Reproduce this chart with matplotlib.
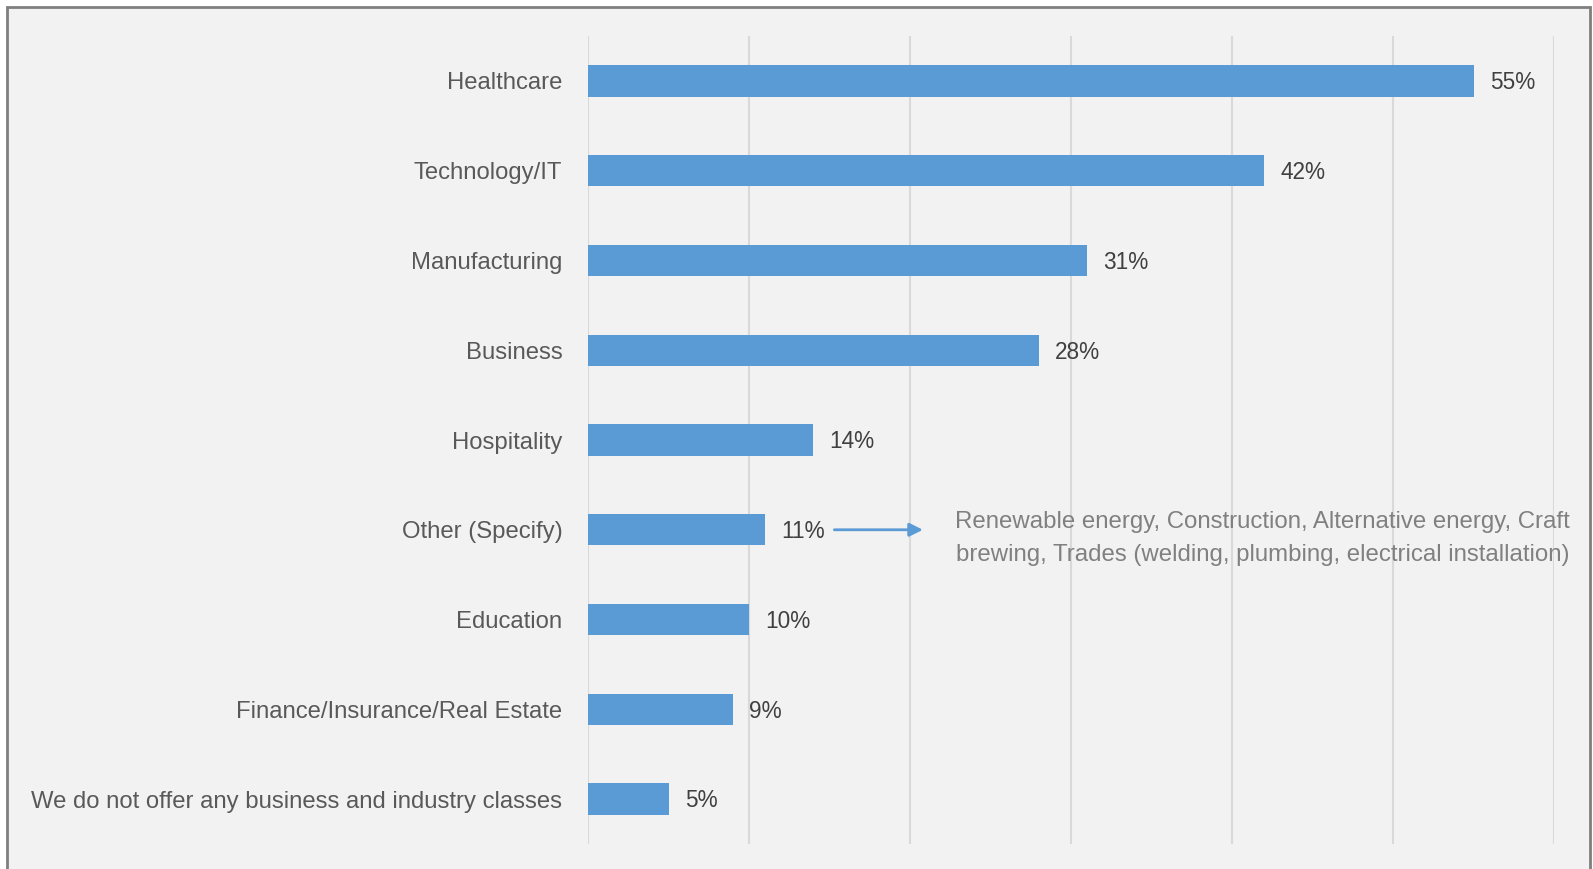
import matplotlib.pyplot as plt
from matplotlib.patches import Rectangle

categories = ['Healthcare', 'Technology/IT', 'Manufacturing', 'Business', 'Hospitality',
              'Other (Specify)', 'Education', 'Finance/Insurance/Real Estate',
              'We do not offer any business and industry classes']
values = [55, 42, 31, 28, 14, 11, 10, 9, 5]
other_note = ('Renewable energy, Construction, Alternative energy, Craft\n'
              'brewing, Trades (welding, plumbing, electrical installation)')

plt.rcParams['font.family'] = ['Liberation Sans Narrow', 'Liberation Sans', 'DejaVu Sans']

W, H = 1593, 869
fig = plt.figure(figsize=(W / 100, H / 100), dpi=100)
fig.patch.set_facecolor('white')

# grey panel with a border, kept behind the axes
fig.patches.append(Rectangle((7 / W, -0.05), (1590 - 7) / W, 1.05 - 7 / H,
                             transform=fig.transFigure, facecolor='#f2f2f2',
                             edgecolor='#7f7f7f', linewidth=2, zorder=-10))

ax = fig.add_axes([588 / W, 1 - 844 / H, 966 / W, (844 - 36) / H])
ax.set_facecolor('none')

y = list(range(len(categories)))
ax.barh(y, values, height=0.35, color='#5b9bd5', zorder=3)
for yi, v in zip(y, values):
    ax.text(v + 1.0, yi + 0.02, f'{v}%', va='center', ha='left', fontsize=16.3, color='#404040')

ax.set_xlim(0, 60)
ax.set_ylim(len(categories) - 0.5, -0.5)
ax.set_xticks(range(0, 61, 10))
ax.xaxis.grid(True, color='#d9d9d9', linewidth=1.5, zorder=0)
ax.tick_params(axis='x', length=0, labelbottom=False)
ax.tick_params(axis='y', length=0, pad=18.5, labelsize=17.2, labelcolor='#595959')
ax.set_yticks(y)
ax.set_yticklabels(categories)
for s in ax.spines.values():
    s.set_visible(False)

# arrow pointing from the "Other" bar to the list of write-in answers
oi = categories.index('Other (Specify)')
ax.annotate('', xy=(20.8, oi), xytext=(15.3, oi),
            arrowprops=dict(arrowstyle='-|>', color='#5b9bd5', lw=2, mutation_scale=20,
                            shrinkA=0, shrinkB=0))
ax.text(41.9, oi + 0.1, other_note, ha='center', va='center', fontsize=17.3,
        color='#808080', linespacing=1.65)

fig.savefig('out.png', dpi=100, facecolor=fig.get_facecolor())
